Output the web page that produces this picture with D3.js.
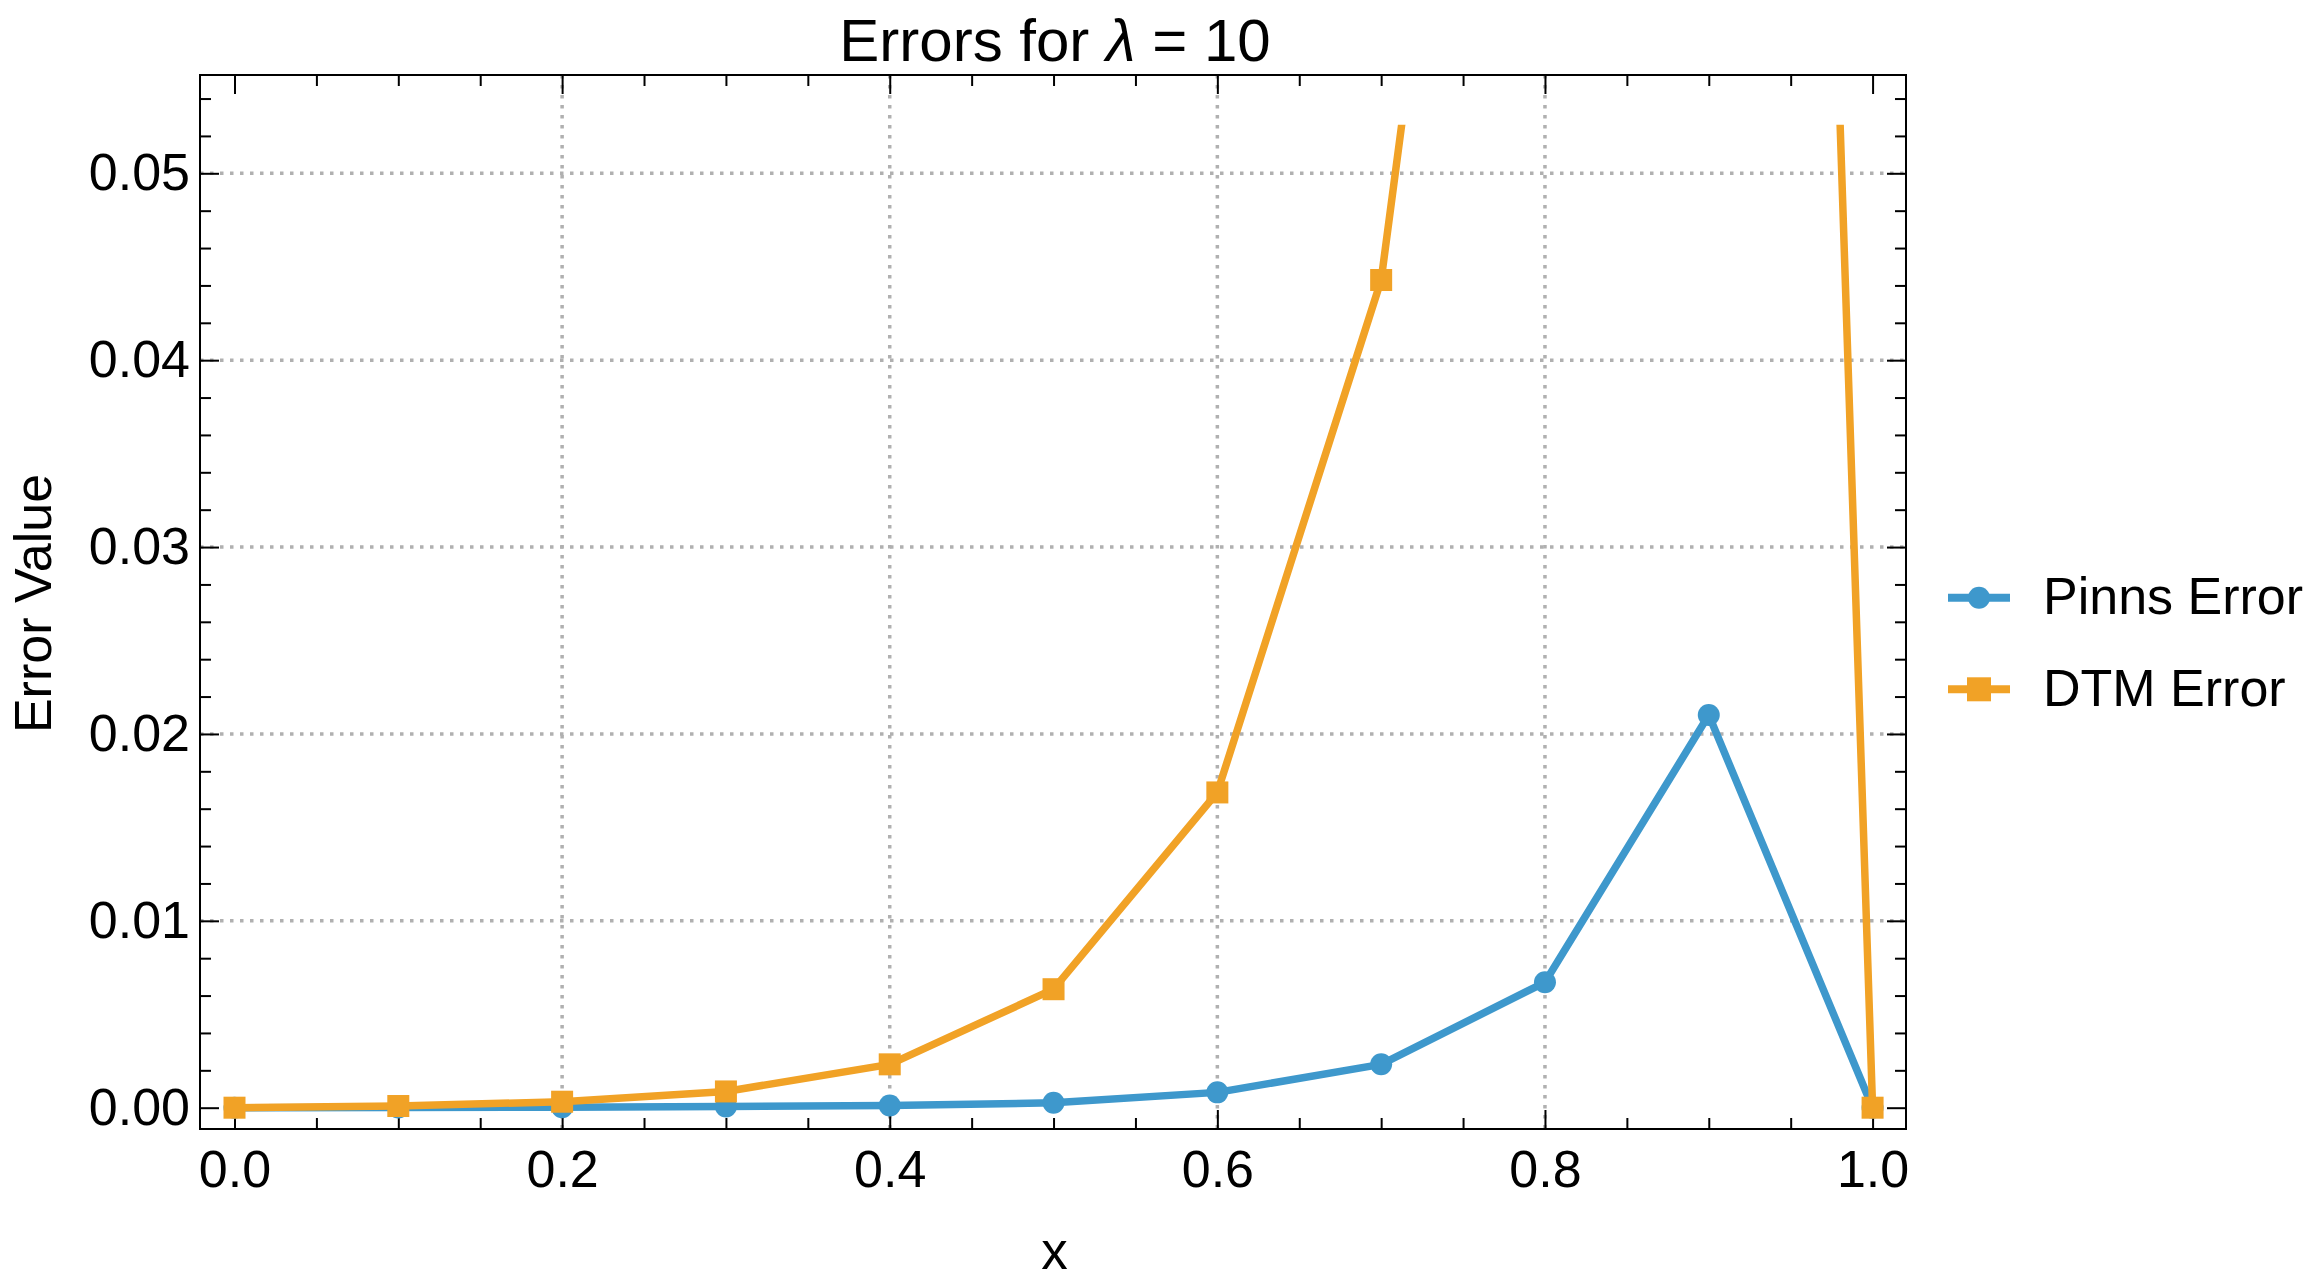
<!DOCTYPE html>
<html>
<head>
<meta charset="utf-8">
<script src="https://cdn.jsdelivr.net/npm/d3@7"></script>
<style>
  html, body { margin: 0; padding: 0; background: #fff; }
  svg { display: block; font-family: "Liberation Sans", Arial, Helvetica, sans-serif; }
</style>
</head>
<body>
<svg id="chart" width="2321" height="1285"></svg>
<script>
// ---- data ----
const xValues = [0, 0.1, 0.2, 0.3, 0.4, 0.5, 0.6, 0.7, 0.8, 0.9, 1.0];
const pinnsError = [0, 0.00001, 0.00003, 0.00006, 0.00012, 0.00026, 0.00082, 0.00232, 0.00671, 0.02101, 0];
const dtmError   = [0, 0.00009, 0.00032, 0.00087, 0.00232, 0.00634, 0.01687, 0.04429, 0.1106, 0.2655, 0];
const seriesNames = ["Pinns Error", "DTM Error"];
const xTickLabels = [0, 0.2, 0.4, 0.6, 0.8, 1.0];
const yTickLabels = [0, 0.01, 0.02, 0.03, 0.04, 0.05];
const xGridValues = [0.2, 0.4, 0.6, 0.8];
const yGridValues = [0.01, 0.02, 0.03, 0.04, 0.05];
const xDomain = [-0.02106, 1.0204];
const yDomain = [-0.00114, 0.05526];
const yClipTop = 0.0526;

// ---- layout ----
const frame = { left: 200, right: 1906, top: 75, bottom: 1129 };
const colors = { pinns: "#3e98cc", dtm: "#f1a226" };

const svg = d3.select("#chart");
const x = d3.scaleLinear().domain(xDomain).range([frame.left, frame.right]);
const y = d3.scaleLinear().domain(yDomain).range([frame.bottom, frame.top]);

// clip
svg.append("defs").append("clipPath").attr("id", "plotclip")
  .append("rect")
  .attr("x", frame.left).attr("y", y(yClipTop))
  .attr("width", frame.right - frame.left)
  .attr("height", frame.bottom - y(yClipTop));

// grid
const grid = svg.append("g").attr("stroke", "#b0b0b0").attr("stroke-width", 3.5)
  .attr("stroke-dasharray", "3.5,6.5");
grid.selectAll("line.v").data(xGridValues).join("line").attr("class", "v")
  .attr("x1", d => x(d)).attr("x2", d => x(d))
  .attr("y1", frame.top).attr("y2", frame.bottom);
grid.selectAll("line.h").data(yGridValues).join("line").attr("class", "h")
  .attr("y1", d => y(d)).attr("y2", d => y(d))
  .attr("x1", frame.left).attr("x2", frame.right);

// axes (ticks inward)
const xMinor = d3.range(0, 1.0001, 0.05).filter(v => !xTickLabels.some(t => Math.abs(t - v) < 1e-9));
const yMinor = d3.range(0, 0.0545, 0.002).filter(v => !yTickLabels.some(t => Math.abs(t - v) < 1e-9));

function styleAxis(g) {
  g.select(".domain").remove();
  g.selectAll(".tick line").attr("stroke", "#000").attr("stroke-width", 2);
  g.selectAll("text").attr("fill", "#000").attr("font-size", 52)
    .attr("font-family", '"Liberation Sans", Arial, sans-serif');
}

const axB = svg.append("g").attr("transform", `translate(0,${frame.bottom})`)
  .call(d3.axisBottom(x).tickValues(xTickLabels).tickSize(-19).tickPadding(21).tickFormat(d3.format(".1f")));
styleAxis(axB);
axB.selectAll("text").attr("dy", "0.71em");
svg.append("g").attr("transform", `translate(0,${frame.bottom})`)
  .call(d3.axisBottom(x).tickValues(xMinor).tickSize(-11).tickFormat(""))
  .call(styleAxis);

const axT = svg.append("g").attr("transform", `translate(0,${frame.top})`)
  .call(d3.axisTop(x).tickValues(xTickLabels).tickSize(-19).tickFormat(""));
styleAxis(axT);
svg.append("g").attr("transform", `translate(0,${frame.top})`)
  .call(d3.axisTop(x).tickValues(xMinor).tickSize(-11).tickFormat(""))
  .call(styleAxis);

const axL = svg.append("g").attr("transform", `translate(${frame.left},0)`)
  .call(d3.axisLeft(y).tickValues(yTickLabels).tickSize(-19).tickPadding(10).tickFormat(d3.format(".2f")));
styleAxis(axL);
svg.append("g").attr("transform", `translate(${frame.left},0)`)
  .call(d3.axisLeft(y).tickValues(yMinor).tickSize(-11).tickFormat(""))
  .call(styleAxis);

svg.append("g").attr("transform", `translate(${frame.right},0)`)
  .call(d3.axisRight(y).tickValues(yTickLabels).tickSize(-19).tickFormat(""))
  .call(styleAxis);
svg.append("g").attr("transform", `translate(${frame.right},0)`)
  .call(d3.axisRight(y).tickValues(yMinor).tickSize(-11).tickFormat(""))
  .call(styleAxis);

// frame
svg.append("rect")
  .attr("x", frame.left).attr("y", frame.top)
  .attr("width", frame.right - frame.left).attr("height", frame.bottom - frame.top)
  .attr("fill", "none").attr("stroke", "#000").attr("stroke-width", 2);

// series
const plot = svg.append("g").attr("clip-path", "url(#plotclip)");
const line = d3.line().x(d => x(d[0])).y(d => y(d[1]));
const pinnsData = xValues.map((v, i) => [v, pinnsError[i]]);
const dtmData = xValues.map((v, i) => [v, dtmError[i]]);

plot.append("path").datum(pinnsData).attr("d", line)
  .attr("fill", "none").attr("stroke", colors.pinns).attr("stroke-width", 7.5).attr("stroke-linejoin", "round");
plot.selectAll("circle.p").data(pinnsData).join("circle").attr("class", "p")
  .attr("cx", d => x(d[0])).attr("cy", d => y(d[1])).attr("r", 11).attr("fill", colors.pinns);

plot.append("path").datum(dtmData).attr("d", line)
  .attr("fill", "none").attr("stroke", colors.dtm).attr("stroke-width", 7.5).attr("stroke-linejoin", "round");
const sq = 22;
plot.selectAll("rect.d").data(dtmData).join("rect").attr("class", "d")
  .attr("x", d => x(d[0]) - sq / 2).attr("y", d => y(d[1]) - sq / 2)
  .attr("width", sq).attr("height", sq).attr("fill", colors.dtm);

// title
const title = svg.append("text").attr("x", 1055).attr("y", 61).attr("text-anchor", "middle")
  .attr("font-size", 60).attr("fill", "#000");
title.append("tspan").text("Errors for ");
title.append("tspan").attr("font-style", "italic").text("λ");
title.append("tspan").text(" = 10");

// axis labels
svg.append("text").attr("x", 1054.5).attr("y", 1269).attr("text-anchor", "middle")
  .attr("font-size", 53).attr("fill", "#000").text("x");
svg.append("text").attr("transform", "translate(51,603.5) rotate(-90)").attr("text-anchor", "middle")
  .attr("font-size", 52).attr("fill", "#000").text("Error Value");

// legend
const legend = svg.append("g");
const legendItems = [
  { name: seriesNames[0], color: colors.pinns, shape: "circle", y: 597.7 },
  { name: seriesNames[1], color: colors.dtm, shape: "square", y: 689.3 }
];
legendItems.forEach(it => {
  legend.append("line").attr("x1", 1948).attr("x2", 2010).attr("y1", it.y).attr("y2", it.y)
    .attr("stroke", it.color).attr("stroke-width", 8);
  if (it.shape === "circle") {
    legend.append("circle").attr("cx", 1979).attr("cy", it.y).attr("r", 11).attr("fill", it.color);
  } else {
    legend.append("rect").attr("x", 1979 - 12).attr("y", it.y - 12).attr("width", 24).attr("height", 24).attr("fill", it.color);
  }
  legend.append("text").attr("x", 2043).attr("y", it.y + 16.6).attr("font-size", 52).attr("fill", "#000").text(it.name);
});
</script>
</body>
</html>
